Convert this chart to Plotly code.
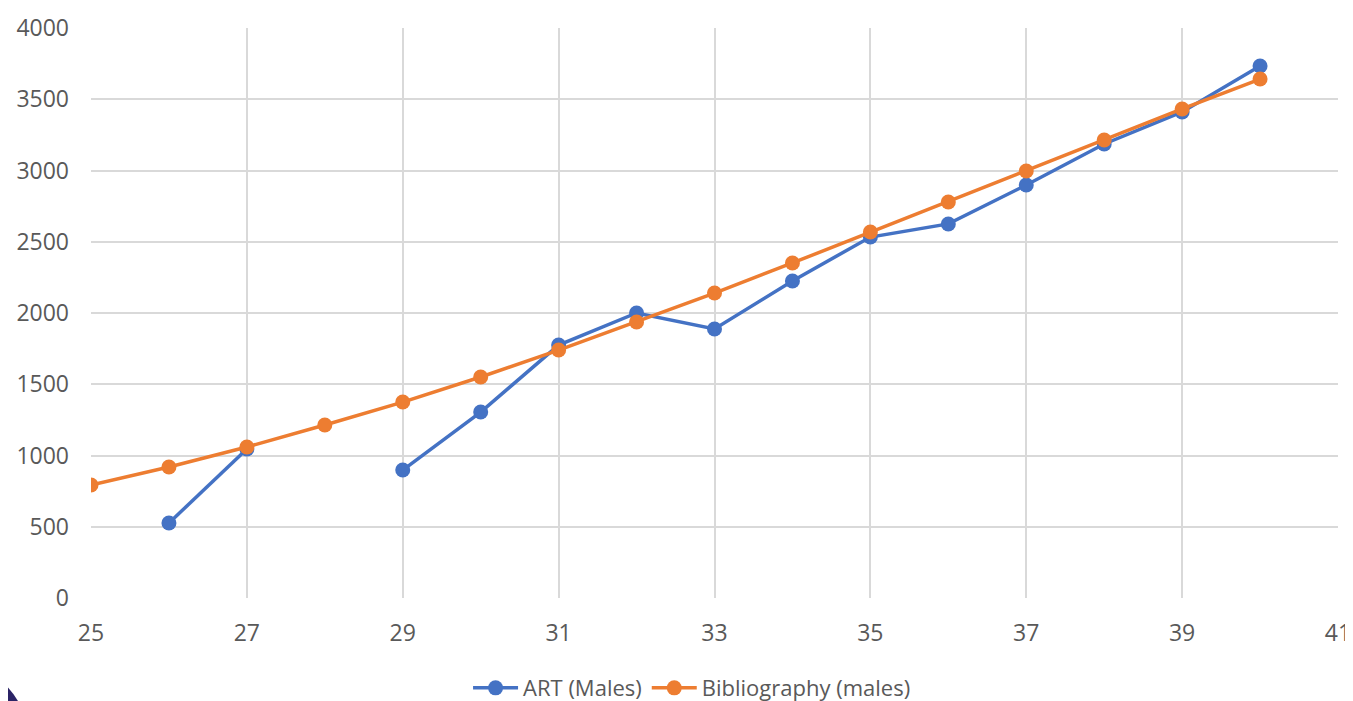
import plotly.graph_objects as go

ages = [25, 26, 27, 28, 29, 30, 31, 32, 33, 34, 35, 36, 37, 38, 39, 40]
art_males = [None, 526, 1046, None, 898, 1305, 1775, 2000, 1888, 2225, 2533, 2625, 2898, 3186, 3411, 3733]
biblio_males = [793, 919, 1060, 1214, 1375, 1551, 1740, 1937, 2140, 2351, 2568, 2779, 2996, 3214, 3432, 3642]
x_ticks = [25, 27, 29, 31, 33, 35, 37, 39, 41]
y_ticks = [0, 500, 1000, 1500, 2000, 2500, 3000, 3500, 4000]

BLUE = "#4472C4"
ORANGE = "#ED7D31"
GRID = "#D9D9D9"
TXT = "#595959"
FONT = "Open Sans"

fig = go.Figure()
fig.add_trace(go.Scatter(
    x=ages, y=art_males, name="ART (Males)", mode="lines+markers",
    connectgaps=False,
    line=dict(color=BLUE, width=3.5),
    marker=dict(color=BLUE, size=15),
))
fig.add_trace(go.Scatter(
    x=ages, y=biblio_males, name="Bibliography (males)", mode="lines+markers",
    line=dict(color=ORANGE, width=3.5),
    marker=dict(color=ORANGE, size=15),
))

# page body has an 8px margin, so the figure is sized to fill the rest of the window
fig.update_layout(
    width=1345, height=693,
    margin=dict(l=83, r=15, t=20, b=103, autoexpand=False),
    paper_bgcolor="white", plot_bgcolor="white",
    font=dict(family=FONT, size=23, color=TXT),
    showlegend=True,
    legend=dict(orientation="h", x=0.482, xanchor="center", y=-0.158, yanchor="middle",
                font=dict(family=FONT, size=22, color=TXT), itemwidth=45,
                traceorder="normal"),
    xaxis=dict(range=[25, 41], tickvals=x_ticks, showgrid=True, gridcolor=GRID, gridwidth=2,
               zeroline=False, showline=False, ticklabelstandoff=19, automargin=False,
               tickfont=dict(family=FONT, size=23, color=TXT), fixedrange=True),
    yaxis=dict(range=[0, 4000], tickvals=y_ticks, showgrid=True, gridcolor=GRID, gridwidth=2,
               zeroline=False, showline=False, ticklabelstandoff=21, automargin=False,
               tickfont=dict(family=FONT, size=23, color=TXT), fixedrange=True),
    shapes=[
        dict(type="path", xref="paper", yref="paper",
             path="M -0.0666,-0.157 Q -0.062,-0.168 -0.0585,-0.181 L -0.0666,-0.181 Z",
             fillcolor="#2B2366", line=dict(width=0), layer="above"),
    ],
)

fig.write_html("out.html")
